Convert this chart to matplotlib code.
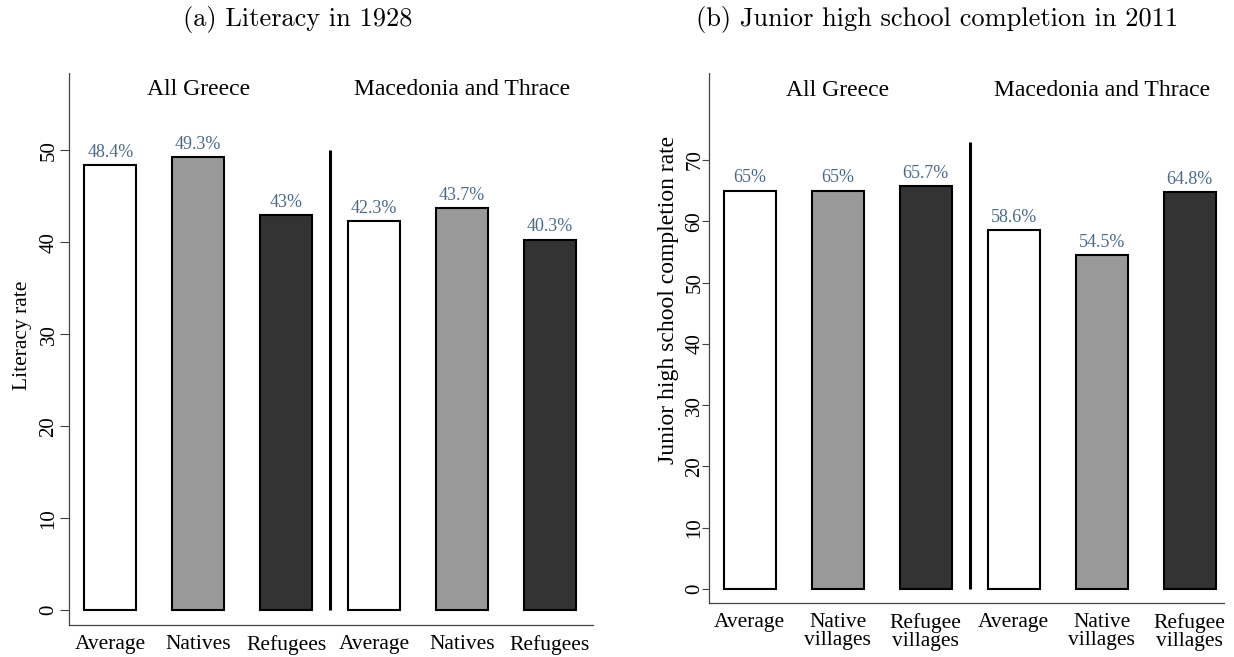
import numpy as np
import matplotlib.pyplot as plt

# values
lit_labels = ["Average", "Natives", "Refugees", "Average", "Natives", "Refugees"]
lit_values = [48.4, 49.3, 43.0, 42.3, 43.7, 40.3]
jhs_labels = ["Average", "Native\nvillages", "Refugee\nvillages",
              "Average", "Native\nvillages", "Refugee\nvillages"]
jhs_values = [65.0, 65.0, 65.7, 58.6, 54.5, 64.8]
groups = ["All Greece", "Macedonia and Thrace"]
lit_yticks = [0, 10, 20, 30, 40, 50]
jhs_yticks = [0, 10, 20, 30, 40, 50, 60, 70]

fills = ["white", "#999999", "#333333"] * 2
val_color = "#4a6a8a"

plt.rcParams["font.family"] = ["Liberation Serif", "DejaVu Serif"]

fig = plt.figure(figsize=(12.34, 6.57), dpi=100)
ax1 = fig.add_axes([0.0559, 0.0487, 0.4247, 0.8402])
ax2 = fig.add_axes([0.5746, 0.0822, 0.4173, 0.8067])


def panel(ax, labels, values, yticks, ylim, xlim, sep_top, group_y,
          ylabel, lab_size, lab_xy, tick_len, tick_pad):
    x = np.arange(len(values))
    bars = ax.bar(x, values, width=0.59, color=fills, edgecolor="black", linewidth=1.5)
    for b, v in zip(bars, values):
        ax.annotate(f"{v:g}%", (b.get_x() + b.get_width() / 2, v),
                    xytext=(0, 3), textcoords="offset points",
                    ha="center", va="bottom", color=val_color, fontsize=13)
    ax.plot([2.5, 2.5], [0, sep_top], color="black", lw=2.2, solid_capstyle="butt")
    ax.text(1, group_y, groups[0], ha="center", va="center", fontsize=17)
    ax.text(4, group_y, groups[1], ha="center", va="center", fontsize=17)
    ax.set_xlim(*xlim)
    ax.set_ylim(*ylim)
    ax.set_xticks(x)
    ax.set_xticklabels(labels, fontsize=15.5, linespacing=0.95)
    ax.tick_params(axis="x", length=0, pad=7)
    ax.set_yticks(yticks)
    ax.set_yticklabels([str(t) for t in yticks], rotation=90, va="center", fontsize=15)
    ax.tick_params(axis="y", length=tick_len, width=0.8, color="#444444", pad=tick_pad)
    ax.set_ylabel(ylabel, fontsize=lab_size)
    ax.yaxis.set_label_coords(*lab_xy)
    for s in ["top", "right"]:
        ax.spines[s].set_visible(False)
    for s in ["left", "bottom"]:
        ax.spines[s].set_color("#444444")
        ax.spines[s].set_linewidth(0.9)


panel(ax1, lit_labels, lit_values, lit_yticks, (-1.6, 58.4), (-0.47, 5.49),
      50, 56.6, "Literacy rate", 15.5, (-0.07, 0.524), 6.5, 1)
panel(ax2, jhs_labels, jhs_values, jhs_yticks, (-2.3, 84.2), (-0.46, 5.39),
      73, 81.4, "Junior high school completion rate", 17, (-0.058, 0.572), 5, -1.5)

fig.text(0.241, 0.971, "(a) Literacy in 1928", ha="center", va="center",
         family="cmr10", fontsize=19)
fig.text(0.759, 0.971, "(b) Junior high school completion in 2011", ha="center",
         va="center", family="cmr10", fontsize=19)

fig.savefig("out.png", dpi=100)
